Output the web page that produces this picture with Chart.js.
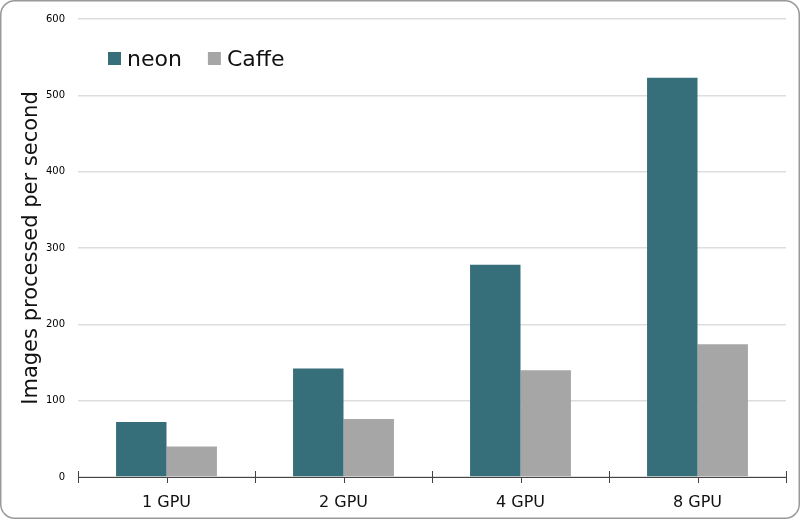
<!DOCTYPE html>
<html>
<head>
<meta charset="utf-8">
<script src="https://cdn.jsdelivr.net/npm/chart.js@4/dist/chart.umd.min.js"></script>
<style>
  html, body { margin: 0; padding: 0; background: #fff; }
  #wrap { width: 800px; height: 519px; }
</style>
</head>
<body>
<div id="wrap"><canvas id="myChart" width="800" height="519"></canvas></div>
<script>
const gpu_labels = ["1 GPU", "2 GPU", "4 GPU", "8 GPU"];
const neon_data = [72, 142, 278, 523];
const caffe_data = [40, 76, 140, 174];
const y_ticks = [0, 100, 200, 300, 400, 500, 600];

const font_family = "'DejaVu Sans', Verdana, sans-serif";

// rounded frame round the whole picture
const framePlugin = {
    id: 'frame',
    beforeDraw(chart) {
        const ctx = chart.ctx;
        ctx.save();
        ctx.fillStyle = '#fff';
        ctx.fillRect(0, 0, chart.width, chart.height);
        ctx.beginPath();
        ctx.roundRect(0.75, 0.75, chart.width - 1.5, chart.height - 1.5, 14);
        ctx.strokeStyle = '#9a9a9a';
        ctx.lineWidth = 1.5;
        ctx.stroke();
        ctx.restore();
    }
};

// small tick marks on the category axis: boundaries cross the axis, centers hang below
const tickPlugin = {
    id: 'catTicks',
    afterDatasetsDraw(chart) {
        const x = chart.scales.x;
        const ctx = chart.ctx;
        const bottom = chart.chartArea.bottom;
        ctx.save();
        ctx.strokeStyle = '#444';
        ctx.lineWidth = 1;
        ctx.beginPath();
        const n = gpu_labels.length;
        for (let i = 0; i < n; i++) {
            const c = Math.round(x.getPixelForTick(i)) + 0.5;
            ctx.moveTo(c, bottom);
            ctx.lineTo(c, bottom + 6);
        }
        for (let i = 0; i <= n; i++) {
            const b = Math.round(x.getPixelForValue(i - 0.5)) + 0.5;
            ctx.moveTo(b, bottom - 6);
            ctx.lineTo(b, bottom + 6);
        }
        ctx.stroke();
        ctx.restore();
    }
};

// legend in one row inside the plot, top left
const legendPlugin = {
    id: 'insideLegend',
    afterDatasetsDraw(chart) {
        const ctx = chart.ctx;
        const area = chart.chartArea;
        let x = area.left + 30;
        const y = area.top + 33;
        ctx.save();
        ctx.font = '22px ' + font_family;
        ctx.textBaseline = 'middle';
        ctx.textAlign = 'left';
        chart.data.datasets.forEach(ds => {
            ctx.fillStyle = ds.backgroundColor;
            ctx.fillRect(x, y, 13, 13);
            ctx.fillStyle = '#111';
            ctx.fillText(ds.label, x + 19, y + 8);
            x += 19 + ctx.measureText(ds.label).width + 26;
        });
        ctx.restore();
    }
};

const myChart = new Chart('myChart', {
    type: 'bar',
    data: {
        labels: gpu_labels,
        datasets: [
            {
                label: 'neon',
                data: neon_data,
                backgroundColor: '#366e7a',
                borderWidth: 0,
            },
            {
                label: 'Caffe',
                data: caffe_data,
                backgroundColor: '#a6a6a6',
                borderWidth: 0,
            },
        ]
    },
    options: {
        responsive: false,
        animation: false,
        devicePixelRatio: 1,
        layout: {
            padding: { left: 0, top: 14, right: 14, bottom: 0 }
        },
        datasets: {
            bar: {
                categoryPercentage: 0.57,
                barPercentage: 1.0,
            }
        },
        plugins: {
            legend: { display: false },
            tooltip: { enabled: false }
        },
        scales: {
            x: {
                grid: { display: false, drawTicks: false },
                border: { display: true, color: '#444', width: 1 },
                ticks: {
                    padding: 16,
                    color: '#111',
                    font: { family: font_family, size: 16 }
                },
                afterFit(scale) { scale.height = 42; }
            },
            y: {
                min: 0,
                max: 600,
                afterBuildTicks(scale) {
                    scale.ticks = y_ticks.map(v => ({ value: v }));
                },
                grid: { color: '#dddddd', lineWidth: 1.5, drawTicks: false },
                border: { display: false },
                ticks: {
                    padding: 13,
                    color: '#000',
                    font: { family: font_family, size: 10 }
                },
                title: {
                    display: true,
                    text: 'Images processed per second',
                    color: '#111',
                    padding: { top: 19, bottom: 0 },
                    font: { family: font_family, size: 21 }
                },
                afterFit(scale) { scale.width = 78; }
            }
        }
    },
    plugins: [framePlugin, tickPlugin, legendPlugin]
});
</script>
</body>
</html>
